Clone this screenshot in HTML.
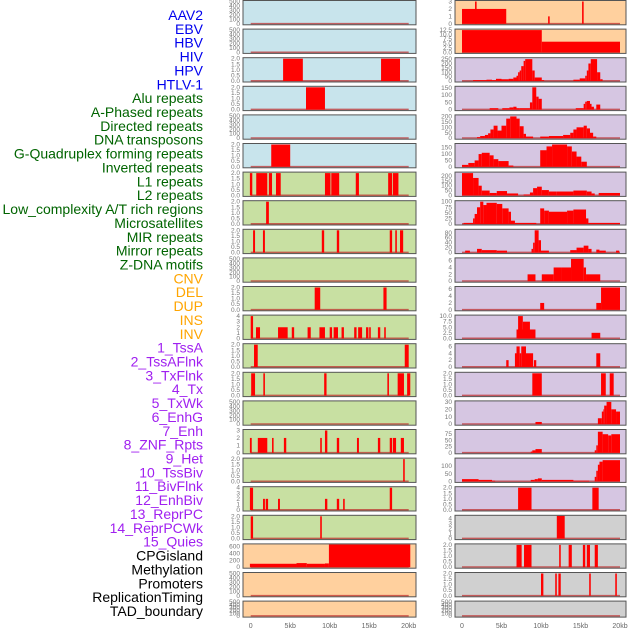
<!DOCTYPE html>
<html><head><meta charset="utf-8"><style>
html,body{margin:0;padding:0;background:#fff;width:630px;height:630px;overflow:hidden}
svg text{font-family:"Liberation Sans",sans-serif}
</style></head><body>
<svg id="c" width="630" height="630" viewBox="0 0 630 630" xmlns="http://www.w3.org/2000/svg"></svg>
<script>
const labels=["AAV2","EBV","HBV","HIV","HPV","HTLV-1","Alu repeats","A-Phased repeats","Directed repeats","DNA transposons","G-Quadruplex forming repeats","Inverted repeats","L1 repeats","L2 repeats","Low_complexity A/T rich regions","Microsatellites","MIR repeats","Mirror repeats","Z-DNA motifs","CNV","DEL","DUP","INS","INV","1_TssA","2_TssAFlnk","3_TxFlnk","4_Tx","5_TxWk","6_EnhG","7_Enh","8_ZNF_Rpts","9_Het","10_TssBiv","11_BivFlnk","12_EnhBiv","13_ReprPC","14_ReprPCWk","15_Quies","CPGisland","Methylation","Promoters","ReplicationTiming","TAD_boundary"];
const labelGroups=[0,0,0,0,0,0,1,1,1,1,1,1,1,1,1,1,1,1,1,2,2,2,2,2,3,3,3,3,3,3,3,3,3,3,3,3,3,3,3,4,4,4,4,4];
const groupColors=["#0000ee","#006400","#ffa500","#a020f0","#000000"];
const leftBg=["b","b","b","b","b","b","g","g","g","g","g","g","g","g","g","g","g","g","g","o","o","o"];
const rightBg=["o","o","p","p","p","p","p","p","p","p","p","p","p","p","p","p","p","p","g2","g2","g2","g2"];
const leftYMax=[500,500,2,2,500,2,2,2,2,500,2,4,2,2,500,3,2,4,2,650,500,500];
const leftTickStep=[100,100,0.5,0.5,100,0.5,0.5,0.5,0.5,100,0.5,1,0.5,0.5,100,1,0.5,1,0.5,200,100,100];
const leftBars=[
[],[],
[[4.1,6.6,2],[16.5,18.9,2]],
[[7.0,9.4,2]],
[],
[[2.6,5.0,2]],
[[-0.1,0.2,2],[0.7,2.1,2],[2.3,2.7,2],[3.2,3.8,2],[9.4,10.1,2],[10.2,11.2,2],[13.3,13.7,2],[17.4,17.9,2],[18.0,18.7,2]],
[[1.95,2.3,2]],
[[0.3,0.55,2],[1.55,1.8,2],[9.0,9.3,2],[10.9,11.2,2],[17.6,17.9,2],[18.3,18.5,2],[18.9,19.3,2]],
[],
[[8.1,8.8,2],[16.8,17.2,2]],
[[0,0.3,4],[0.67,1.18,2],[3.46,4.68,2],[5.2,5.5,2],[7.2,7.6,2],[8.7,9.4,2],[10.0,10.3,2],[10.5,11.05,2],[11.5,11.8,2],[13.1,13.4,2],[13.6,14.1,2],[14.6,14.9,2],[15.0,15.2,2],[16.1,16.4,2],[16.9,17.1,2]],
[[0.42,0.89,2],[19.5,20.0,2]],
[[0.06,0.55,2],[1.6,1.8,2],[9.3,9.6,2],[17.3,17.5,2],[18.6,19.4,2],[19.8,20.2,2]],
[],
[[-0.1,0.13,2],[0.9,2.1,2],[2.7,2.9,2],[4.2,4.5,2],[8.8,9.0,2],[9.4,9.7,3],[10.9,11.2,2],[13.45,13.7,2],[16.1,16.4,2],[17.6,17.9,2],[18.0,18.4,2],[19.0,19.4,2]],
[[19.3,19.5,2]],
[[-0.1,0.3,4],[1.56,1.8,2],[1.9,2.2,2],[3.46,3.7,2],[9.4,9.7,2],[10.9,11.2,2],[11.7,11.9,2],[17.6,17.9,4]],
[[0,0.3,2],[8.8,9.0,2]],
[[-0.1,5.8,100],[5.8,7.1,120],[7.1,9.4,100],[9.4,9.9,110],[9.9,20.2,700]],
[],[]
];
const rightYMax=[3,12.5,255,155,205,175,230,100,90,6.5,6.5,10,6.5,2,30,90,147,2,4.4,2,2,500];
const rightTickStep=[1,2.5,50,50,50,50,50,25,20,2,2,2.5,2,0.5,10,25,50,0.5,1,0.5,0.5,100];
const rightBars=[
[[0,5.6,2],[1.65,1.85,3],[10.9,11.1,1],[15.2,15.4,3]],
[[0,10.1,12.5],[10.1,20.0,6]],
[[1.4,3.1,10],[3.1,3.8,15],[3.8,4.3,10],[4.3,5.0,25],[5.0,5.9,20],[5.9,6.5,25],[6.5,6.9,40],[6.9,7.1,60],[7.1,7.3,100],[7.3,7.5,120],[7.5,7.8,170],[7.8,8.0,230],[8.0,8.9,250],[8.9,9.2,120],[9.2,10.1,40],[10.1,10.4,10],[14.1,14.9,15],[14.9,15.6,30],[15.6,15.8,60],[15.8,16.0,120],[16.0,16.3,200],[16.3,17.1,250],[17.1,17.5,100],[17.5,17.8,20]],
[[3.5,4.6,10],[5.1,6.0,10],[6.0,6.5,15],[6.5,6.9,20],[6.9,7.3,10],[7.3,8.6,10],[8.6,8.9,50],[8.9,9.4,155],[9.4,9.7,90],[9.7,10.1,75],[14.4,15.4,10],[15.4,15.6,40],[15.6,15.8,55],[15.8,16.2,60],[16.2,16.4,40],[16.4,16.7,20],[17.0,17.5,35]],
[[1.9,2.3,10],[2.3,2.9,20],[2.9,3.3,30],[3.3,3.6,45],[3.6,4.0,80],[4.0,4.5,115],[4.5,5.0,70],[5.0,5.6,115],[5.6,6.1,180],[6.1,6.9,200],[6.9,7.3,180],[7.3,7.8,110],[7.8,8.1,40],[8.1,9.0,15],[9.9,11.0,15],[11.0,12.8,20],[12.8,13.7,30],[13.7,14.1,50],[14.1,14.5,80],[14.5,15.4,100],[15.4,15.8,115],[15.8,16.2,90],[16.2,16.6,50],[16.6,17.0,15]],
[[0,0.8,15],[0.8,1.6,30],[1.6,2.1,50],[2.1,2.5,100],[2.5,3.5,110],[3.5,4.0,90],[4.0,4.6,60],[4.6,5.9,45],[5.9,6.5,10],[9.9,10.7,130],[10.7,11.4,160],[11.4,13.3,175],[13.3,13.9,160],[13.9,14.5,120],[14.5,15.1,80],[15.1,15.8,40]],
[[0,1.4,230],[1.4,2.1,180],[2.1,2.5,100],[2.5,3.5,50],[3.5,4.4,25],[4.4,5.7,45],[5.7,7.1,20],[7.8,8.6,10],[8.6,9.0,30],[9.0,9.5,75],[9.5,10.1,90],[10.1,11.0,55],[11.0,12.0,40],[12.0,14.1,40],[14.1,15.8,50],[15.8,16.4,40],[16.4,16.8,20],[17.3,20.0,25]],
[[0.2,1.4,5],[1.4,1.6,25],[1.6,1.9,45],[1.9,2.3,75],[2.3,2.7,100],[2.7,3.1,85],[3.1,4.4,95],[4.4,5.1,90],[5.1,5.9,70],[5.9,6.2,55],[6.2,6.7,15],[6.7,9.4,5],[9.9,10.4,70],[10.4,11.0,60],[11.0,13.3,55],[13.3,14.1,60],[14.1,15.7,65],[15.7,16.0,25],[16.0,20.0,5]],
[[0.4,1.0,8],[1.9,2.5,15],[2.5,4.4,10],[4.4,5.7,8],[8.8,9.0,15],[9.0,9.2,40],[9.2,9.7,90],[9.7,10.0,50],[10.0,11.0,8],[13.7,14.5,10],[14.5,15.4,20],[15.4,16.0,28],[16.0,16.4,15],[17.0,17.4,12],[17.4,18.2,8],[19.5,19.9,8]],
[[8.3,9.3,2],[10.1,11.6,2],[11.6,12.6,4],[12.6,13.8,4],[13.8,15.4,6.5],[15.4,15.7,4],[15.7,17.5,2]],
[[9.9,10.4,2],[17.0,17.6,2],[17.6,20.0,6.5]],
[[6.9,9.3,4],[7.1,7.7,10],[7.7,8.6,7.5],[16.4,17.5,2.5]],
[[5.6,5.9,2],[6.7,6.9,4],[6.9,7.3,6],[7.3,7.5,4],[7.5,8.1,6],[8.1,9.0,4],[9.1,9.4,2],[17.0,17.5,4]],
[[8.9,10.1,2],[17.6,18.2,2],[18.7,19.2,2]],
[[9.3,10.1,3],[17.2,17.7,8],[17.7,17.9,17],[17.9,18.0,20],[18.0,18.3,25],[18.3,18.9,30],[18.9,19.5,20],[19.5,20.0,17]],
[[8.7,8.9,5],[8.9,9.3,10],[9.3,10.1,15],[16.8,17.0,10],[17.0,17.2,30],[17.2,17.8,85],[17.8,18.5,75],[18.5,18.9,70],[18.9,20.0,75]],
[[0,2.1,15],[2.1,3.8,10],[3.8,4.2,5],[8.7,9.2,10],[9.2,9.6,15],[9.6,10.1,20],[10.1,14.1,10],[14.1,16.1,5],[16.8,17.0,30],[17.0,17.2,70],[17.2,17.4,110],[17.4,17.8,130],[17.8,20.0,140]],
[[7.1,8.8,2],[16.5,17.3,2]],
[[12.0,13.0,5]],
[[6.9,7.55,2],[7.85,8.8,2],[12.3,12.5,2],[13.5,13.9,2],[15.3,15.6,2],[15.8,16.2,2],[16.8,17.2,2]],
[[10.0,10.3,2],[11.8,12.0,2],[12.2,12.5,2],[16.1,16.3,2],[19.4,19.6,2]],
[]
];
const xTickKb=[0,5,10,15,20];
const xTickLabels=["0","5kb","10kb","15kb","20kb"];

const NS="http://www.w3.org/2000/svg";
const svg=document.getElementById('c');
const bgColors={b:"#c8e4ec",g:"#c8e0a2",o:"#ffd09e",p:"#d6c6e2",g2:"#d0d0d0"};
function mk(tag,attrs,parent){const e=document.createElementNS(NS,tag);for(const k in attrs)e.setAttribute(k,attrs[k]);(parent||svg).appendChild(e);return e;}
// labels
labels.forEach((t,i)=>{
  const e=mk('text',{x:203,y:15+i*13.86+5,'text-anchor':'end','font-size':'14',fill:groupColors[labelGroups[i]]});
  
  
  e.textContent=t;
});
function fmt(v,step){return (step<1||step%1!==0)?v.toFixed(1):String(v);}
function panel(col,i,ymax,step,bars,bg){
  const x0=col===0?243:455, x1=col===0?416:626, org=col===0?250.7:462;
  const top=i*28.6+0.5, h=i===21?16:24.3, bot=top+h;
  const g=mk('g',{});
  
  
  mk('rect',{x:x0,y:top,width:x1-x0,height:h,fill:bgColors[bg]},g);
  const sx=kb=>org+kb*7.9;
  const sy=v=>(bot-1)-Math.min(v,ymax*1.02)/ymax*(h-2);
  mk('line',{x1:sx(0),x2:sx(20),y1:bot-1.2,y2:bot-1.2,stroke:'rgba(190,40,40,0.7)','stroke-width':1.5},g);
  bars.forEach(b=>{
    const r=mk('rect',{x:sx(b[0]),y:Math.max(top,sy(b[2])),width:Math.max(0.8,sx(b[1])-sx(b[0])),height:(bot-1)-Math.max(top,sy(b[2])),fill:'#ff0000'},g);
    
    
  });
  mk('rect',{x:x0,y:top,width:x1-x0,height:h,fill:'none',stroke:'#555','stroke-width':1},g);
  for(let v=0;v<=ymax+1e-9;v+=step){
    const t=mk('text',{x:x0-3,y:sy(v)+2,'text-anchor':'end','font-size':'6.5',fill:'#777'},g);
    
    
    t.textContent=fmt(v,step);
  }
}
for(let i=0;i<22;i++){
  panel(0,i,leftYMax[i],leftTickStep[i],leftBars[i],leftBg[i]);
  panel(1,i,rightYMax[i],rightTickStep[i],rightBars[i],rightBg[i]);
}
[250.7,462].forEach(org=>{
  xTickKb.forEach((k,j)=>{
    const t=mk('text',{x:org+k*7.9,y:628,'text-anchor':'middle','font-size':'7',fill:'#666'});
    
    
    t.textContent=xTickLabels[j];
  });
});
</script>
</body></html>
